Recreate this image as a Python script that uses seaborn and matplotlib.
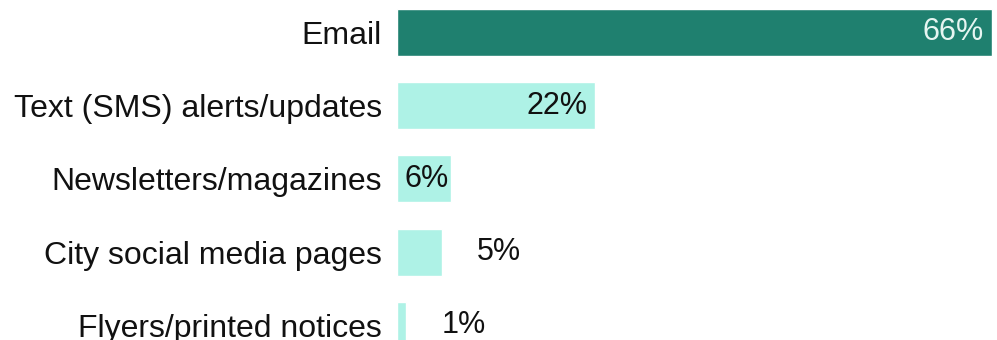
import matplotlib
matplotlib.use("agg")
import matplotlib.pyplot as plt
import seaborn as sns
import pandas as pd

# data
channels = [
    "Email",
    "Text (SMS) alerts/updates",
    "Newsletters/magazines",
    "City social media pages",
    "Flyers/printed notices",
]
shares = [66, 22, 6, 5, 1]
bar_colors = ["#1f806f", "#aef2e6", "#aef2e6", "#aef2e6", "#aef2e6"]

df = pd.DataFrame({"channel": channels, "share": shares})

sns.set_theme(style="white")
plt.rcParams["font.family"] = ["Liberation Sans", "DejaVu Sans"]

fig = plt.figure(figsize=(9.97, 3.4), dpi=100)
ax = fig.add_axes([397 / 997, 0, 600 / 997, 1])

sns.barplot(
    data=df,
    x="share",
    y="channel",
    hue="channel",
    palette=bar_colors,
    saturation=1,
    orient="h",
    width=0.64,
    legend=False,
    ax=ax,
)

ax.set_xlim(0, 66.55)
ax.set_ylim(4.2, -0.44)
ax.set_xlabel("")
ax.set_ylabel("")
ax.set_xticks([])
sns.despine(ax=ax, left=True, bottom=True)
ax.tick_params(axis="y", length=0, pad=11, labelsize=23, labelcolor="#111111")

# value labels: inside for long bars, outside for short ones
for i, v in enumerate(shares):
    label = f"{v}%"
    if v >= 20:
        color = "#e6f5f1" if i == 0 else "#111111"
        ax.text(v - 0.9, i, label, ha="right", va="center", fontsize=22, color=color)
    elif v >= 6:
        ax.text(0.85, i, label, ha="left", va="center", fontsize=22, color="#111111")
    else:
        ax.text(v + 3.9, i, label, ha="left", va="center", fontsize=22, color="#111111")

fig.savefig("out.png", dpi=100)
